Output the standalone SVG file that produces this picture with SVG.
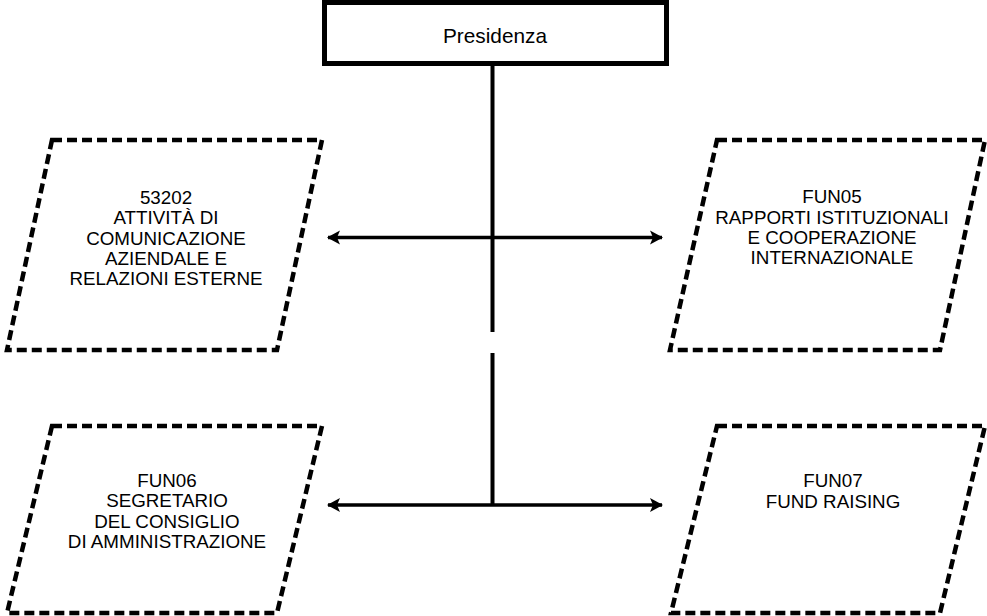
<svg xmlns="http://www.w3.org/2000/svg" width="987" height="616" viewBox="0 0 987 616">
<style>
.box{fill:#fff;stroke:#000;stroke-width:4.5;stroke-dasharray:10 5}
.t{font-family:"Liberation Sans",Arial,sans-serif;font-size:18.8px;fill:#000;text-anchor:middle}
.ln{stroke:#000;stroke-width:4;fill:none}
.ar{stroke:#000;stroke-width:3.5;fill:none;marker-start:url(#ah);marker-end:url(#ah)}
</style>
<defs>
<marker id="ah" markerUnits="userSpaceOnUse" markerWidth="13" markerHeight="16" refX="12" refY="8" orient="auto-start-reverse">
<path d="M0,1 L13,8 L0,15 L3,8 Z" fill="#000"/>
</marker>
</defs>
<rect width="987" height="616" fill="#fff"/>
<g id="connectors">
<line class="ln" x1="492.5" y1="63" x2="492.5" y2="332"/>
<line class="ln" x1="492.5" y1="353" x2="492.5" y2="506"/>
<line class="ar" x1="328" y1="237.5" x2="662" y2="237.5"/>
<line class="ar" x1="328" y1="505" x2="662" y2="505"/>
</g>
<g id="presidenza">
<rect x="324.5" y="2.5" width="342" height="61" fill="#fff" stroke="#000" stroke-width="5"/>
<text class="t" x="495" y="43" style="font-size:20.8px">Presidenza</text>
</g>
<g id="n53202">
<polygon class="box" points="52,140 322,140 277,350 7,350"/>
<text class="t" x="166" y="204">53202</text>
<text class="t" x="166" y="224">ATTIVITÀ DI</text>
<text class="t" x="166" y="245">COMUNICAZIONE</text>
<text class="t" x="166" y="265">AZIENDALE E</text>
<text class="t" x="166" y="285">RELAZIONI ESTERNE</text>
</g>
<g id="fun05">
<polygon class="box" points="717,140 985,140 940,350 670,350"/>
<text class="t" x="832" y="203">FUN05</text>
<text class="t" x="832" y="224">RAPPORTI ISTITUZIONALI</text>
<text class="t" x="832" y="244">E COOPERAZIONE</text>
<text class="t" x="832" y="264">INTERNAZIONALE</text>
</g>
<g id="fun06">
<polygon class="box" points="52,426 322,426 277,613 7,613"/>
<text class="t" x="167" y="487">FUN06</text>
<text class="t" x="167" y="507">SEGRETARIO</text>
<text class="t" x="167" y="528">DEL CONSIGLIO</text>
<text class="t" x="167" y="548">DI AMMINISTRAZIONE</text>
</g>
<g id="fun07">
<polygon class="box" points="717,426 985,426 940,613 671,613"/>
<text class="t" x="833" y="487">FUN07</text>
<text class="t" x="833" y="508">FUND RAISING</text>
</g>
</svg>
